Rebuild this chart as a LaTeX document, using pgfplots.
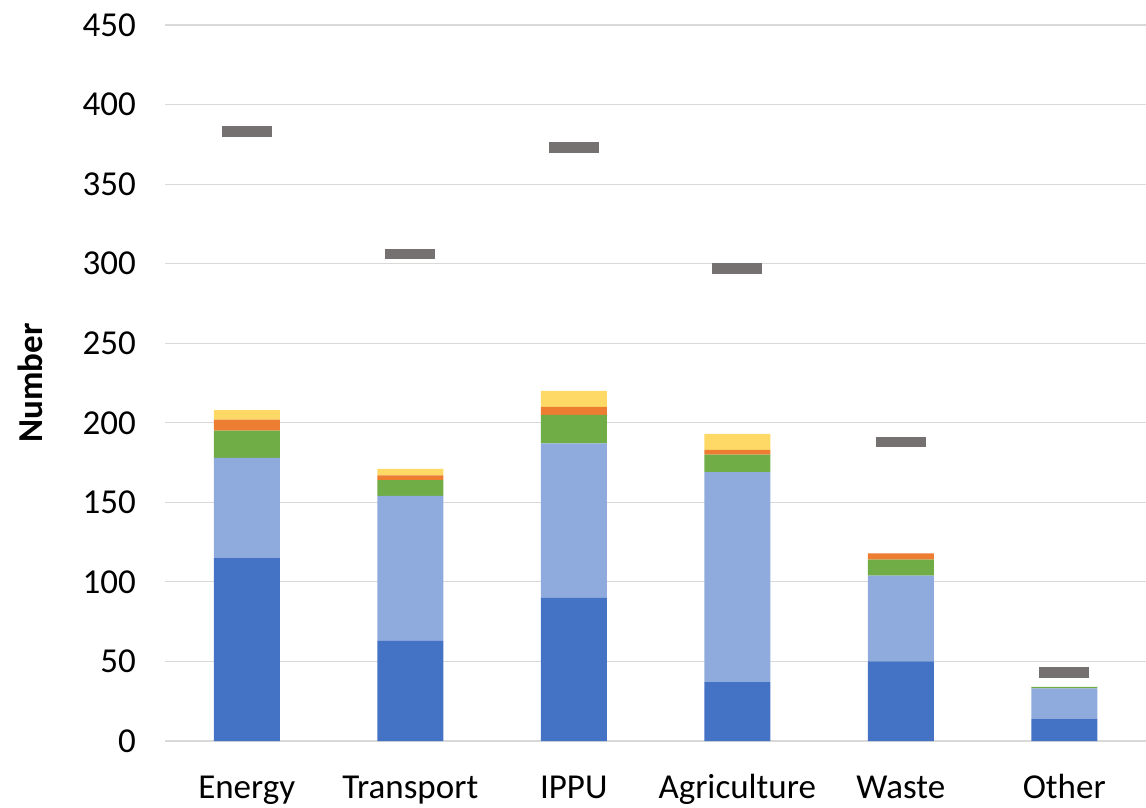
\documentclass[border=0pt]{standalone}
\usepackage{pgfplots}
\pgfplotsset{compat=1.18}
\usepackage{pgfplotstable}
\usepackage{fontspec}
\setmainfont{Carlito}

\definecolor{sdark}{HTML}{4472C4}
\definecolor{slight}{HTML}{8FAADC}
\definecolor{sgreen}{HTML}{70AD47}
\definecolor{sorange}{HTML}{ED7D31}
\definecolor{syellow}{HTML}{FFD966}
\definecolor{smark}{HTML}{767171}
\definecolor{gridgray}{HTML}{D9D9D9}

% stacked segments per sector, m = the grey marker
\pgfplotstableread{
x a   b   c  d e  m
0 115 63  17 7 6  383
1 63  91  10 3 4  306
2 90  97  18 5 10 373
3 37  132 11 3 10 297
4 50  54  10 4 0  188
5 14  19  1  0 0  43
}\sectors

\pgfplotsset{
  base/.style={
    scale only axis,
    width=490.5pt, height=358pt,
    at={(0,0)}, anchor=south west,
    xmin=-0.5, xmax=5.5,
    ymin=0, ymax=450,
    axis line style={draw=none},
    major tick length=0,
    /pgf/number format/assume math mode=true,
  },
}

\begin{document}
\begin{tikzpicture}
  \begin{axis}[
    base,
    name=ax,
    ybar stacked,
    bar width=33pt,
    ymajorgrids,
    grid style={gridgray, line width=0.6pt},
    ytick distance=50,
    xtick={0,...,5},
    xticklabels={Energy, Transport, IPPU, Agriculture, Waste, Other},
    ticklabel style={font=\fontsize{17.5}{21}\selectfont},
    yticklabel style={xshift=-11pt},
    xticklabel style={yshift=-13pt, text height=12pt, text depth=4pt},
    ylabel={Number},
    ylabel style={at={(axis description cs:0,0.5)}, anchor=center,
      yshift=67.5pt, font=\fontsize{17.5}{21}\selectfont\bfseries},
  ]
    \addplot[fill=sdark, draw=none] table[x=x, y=a] {\sectors};
    \addplot[fill=slight, draw=none] table[x=x, y=b] {\sectors};
    \addplot[fill=sgreen, draw=none] table[x=x, y=c] {\sectors};
    \addplot[fill=sorange, draw=none] table[x=x, y=d] {\sectors};
    \addplot[fill=syellow, draw=none] table[x=x, y=e] {\sectors};
  \end{axis}
  \begin{axis}[
    base,
    axis lines=none,
    xtick=\empty, ytick=\empty,
  ]
    \addplot[only marks, mark=-, mark size=12.5pt,
      mark options={draw=smark, line width=5.3pt, line cap=butt}]
      table[x=x, y=m] {\sectors};
  \end{axis}
  \pgfresetboundingbox
  \path[use as bounding box] ([xshift=-82.5pt, yshift=-33pt]ax.south west)
    rectangle ([yshift=12.5pt]ax.north east);
\end{tikzpicture}
\end{document}
